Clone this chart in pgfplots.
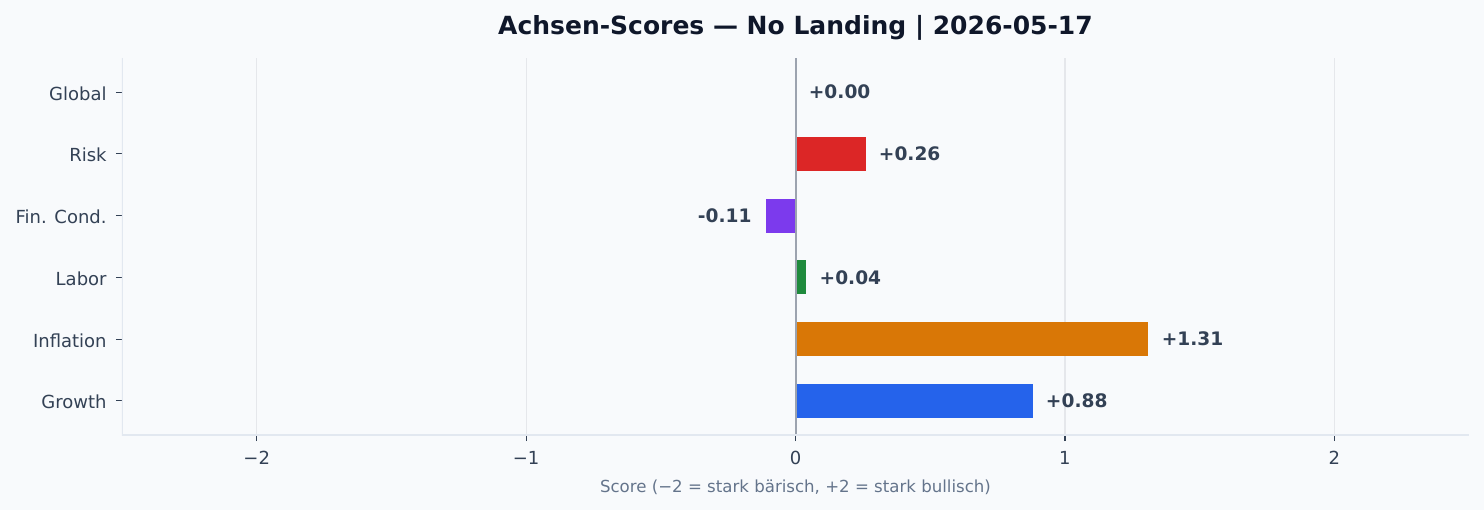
\documentclass[border=0pt]{standalone}
\usepackage{pgfplots}
\pgfplotsset{compat=1.18}
\usepackage{fontspec}
\setmainfont{DejaVu Sans}

\definecolor{bg}{HTML}{F8FAFC}
\definecolor{txt}{HTML}{334155}
\definecolor{ttl}{HTML}{0F172A}
\definecolor{lbl}{HTML}{64748B}
\definecolor{gridc}{HTML}{E5E7EB}
\definecolor{spine}{HTML}{E2E8F0}
\definecolor{zeroc}{HTML}{9CA3AF}
\definecolor{cgrowth}{HTML}{2563EB}
\definecolor{cinfl}{HTML}{D97706}
\definecolor{clabor}{HTML}{1F8A3D}
\definecolor{cfin}{HTML}{7C3AED}
\definecolor{crisk}{HTML}{DC2626}

\begin{document}
\begin{tikzpicture}
\fill[bg] (-61bp,-37.5bp) rectangle (681bp,217.5bp);
\begin{axis}[
    at={(0,0)}, anchor=south west,
    scale only axis,
    width=673.5bp, height=188.5bp,
    xbar, bar width=0.55, bar shift=0pt,
    xmin=-2.5, xmax=2.5,
    ymin=-0.5525, ymax=5.5525,
    xtick={-2,-1,0,1,2},
    xticklabels={−2,−1,0,1,2},
    ytick={0,1,2,3,4,5},
    yticklabels={Growth,Inflation,Labor,Fin. Cond.,Risk,Global},
    tick pos=left, tick align=outside,
    major tick length=3bp,
    tick style={color=txt, line width=0.6bp},
    axis line style={draw=none},
    xmajorgrids, grid style={color=gridc, line width=0.6bp},
    ticklabel style={font=\fontsize{9.0bp}{11bp}\selectfont, text=txt, inner sep=0pt},
    yticklabel style={anchor=east, xshift=-4.5bp, yshift=-0.7bp},
    xticklabel style={anchor=north, yshift=-5bp},
    xlabel={Score (−2 = stark bärisch, +2 = stark bullisch)},
    xlabel style={font=\fontsize{8.3bp}{10bp}\selectfont, text=lbl, inner sep=0pt,
        at={(axis description cs:0.5,0)}, anchor=base, yshift=-28.5bp},
    title={\textbf{Achsen-Scores — No Landing | 2026-05-17}},
    title style={font=\fontsize{12.5bp}{14bp}\selectfont, text=ttl, inner sep=0pt,
        at={(axis description cs:0.5,1)}, anchor=base, yshift=5.75bp},
    point meta=explicit symbolic,
    nodes near coords,
    every node near coord/.append style={font=\fontsize{9.3bp}{11bp}\selectfont\bfseries,
        text=txt, inner sep=0pt, anchor=west, xshift=6.5bp},
]
\addplot[fill=cgrowth, draw=none] coordinates {(0.88,0) [+0.88]};
\addplot[fill=cinfl, draw=none] coordinates {(1.31,1) [+1.31]};
\addplot[fill=clabor, draw=none] coordinates {(0.04,2) [+0.04]};
\addplot[fill=cfin, draw=none,
    every node near coord/.append style={anchor=east, xshift=-13.5bp}]
    coordinates {(-0.11,3) [-0.11]};
\addplot[fill=crisk, draw=none] coordinates {(0.26,4) [+0.26]};
\addplot[fill=none, draw=none] coordinates {(0.00,5) [+0.00]};
\draw[zeroc, line width=1bp] (axis cs:0,-0.5525) -- (axis cs:0,5.5525);
\draw[spine, line width=0.9bp] (rel axis cs:0,1) -- (rel axis cs:0,0) -- (rel axis cs:1,0);
\end{axis}
\end{tikzpicture}
\end{document}
